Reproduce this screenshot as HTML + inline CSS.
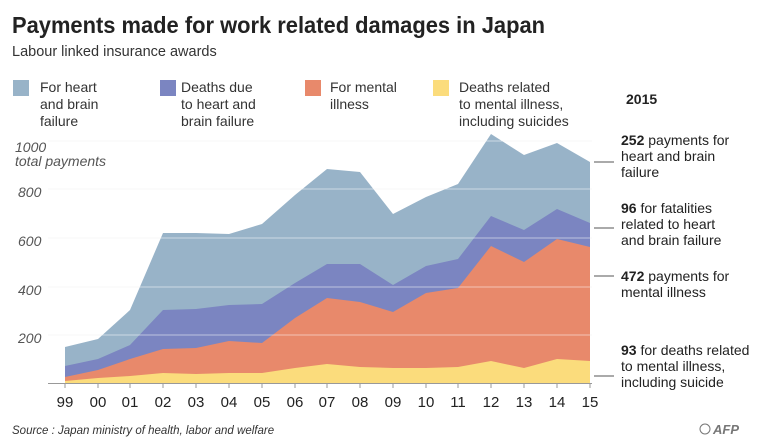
<!DOCTYPE html><html><head><meta charset="utf-8"><style>
body{margin:0;background:#fff;}
svg{display:block;font-family:"Liberation Sans",sans-serif;}
</style></head><body>
<svg width="768" height="448" viewBox="0 0 768 448">
<text x="12" y="33" font-size="23" font-weight="bold" fill="#222" textLength="533" lengthAdjust="spacingAndGlyphs">Payments made for work related damages in Japan</text>
<text x="12" y="56" font-size="14.5" fill="#333">Labour linked insurance awards</text>
<g font-size="14" fill="#333">
<rect x="13" y="80" width="16" height="16" fill="#98b3c8"/>
<text x="40" y="92">For heart</text><text x="40" y="109">and brain</text><text x="40" y="126">failure</text>
<rect x="160" y="80" width="16" height="16" fill="#7b85c1"/>
<text x="181" y="92">Deaths due</text><text x="181" y="109">to heart and</text><text x="181" y="126">brain failure</text>
<rect x="305" y="80" width="16" height="16" fill="#e8896b"/>
<text x="330" y="92">For mental</text><text x="330" y="109">illness</text>
<rect x="433" y="80" width="16" height="16" fill="#fbdc7c"/>
<text x="459" y="92">Deaths related</text><text x="459" y="109">to mental illness,</text><text x="459" y="126">including suicides</text>
</g>
<text x="626" y="104" font-size="14" font-weight="bold" fill="#222">2015</text>
<g stroke="#eee" stroke-width="1">
<line x1="48" y1="141" x2="592" y2="141"/><line x1="48" y1="189" x2="592" y2="189"/><line x1="48" y1="238" x2="592" y2="238"/><line x1="48" y1="287" x2="592" y2="287"/><line x1="48" y1="335" x2="592" y2="335"/>
</g>
<g font-size="14" font-style="italic" fill="#555">
<text x="15" y="152">1000</text><text x="15" y="166">total payments</text>
<text x="18" y="197">800</text><text x="18" y="246">600</text><text x="18" y="295">400</text><text x="18" y="343">200</text>
</g>
<polygon fill="#98b3c8" points="65,383 65,347 98,339 130,310 163,233 196,233 229,234 262,224 295,195 327,169 360,172 393,214 426,197 458,184 491,134 524,155 557,143 590,162 590,383"/>
<polygon fill="#7b85c1" points="65,383 65,366 98,359 130,345 163,310 196,309 229,305 262,304 295,283 327,264 360,264 393,285 426,266 458,259 491,216 524,230 557,209 590,223 590,383"/>
<polygon fill="#e8896b" points="65,383 65,377 98,370 130,359 163,349 196,348 229,341 262,343 295,318 327,298 360,302 393,312 426,293 458,288 491,246 524,262 557,239 590,247 590,383"/>
<polygon fill="#fbdc7c" points="65,383 65,381 98,378 130,376 163,373 196,374 229,373 262,373 295,368 327,364 360,367 393,368 426,368 458,367 491,361 524,368 557,359 590,361 590,383"/>
<g stroke="#fff" stroke-opacity="0.5" stroke-width="1">
<line x1="48" y1="141" x2="592" y2="141"/><line x1="48" y1="189" x2="592" y2="189"/><line x1="48" y1="238" x2="592" y2="238"/><line x1="48" y1="287" x2="592" y2="287"/><line x1="48" y1="335" x2="592" y2="335"/>
</g>
<line x1="48" y1="383.5" x2="592" y2="383.5" stroke="#999"/>
<g stroke="#999">
<line x1="65" y1="383" x2="65" y2="388"/><line x1="98" y1="383" x2="98" y2="388"/><line x1="130" y1="383" x2="130" y2="388"/><line x1="163" y1="383" x2="163" y2="388"/><line x1="196" y1="383" x2="196" y2="388"/><line x1="229" y1="383" x2="229" y2="388"/><line x1="262" y1="383" x2="262" y2="388"/><line x1="295" y1="383" x2="295" y2="388"/><line x1="327" y1="383" x2="327" y2="388"/><line x1="360" y1="383" x2="360" y2="388"/><line x1="393" y1="383" x2="393" y2="388"/><line x1="426" y1="383" x2="426" y2="388"/><line x1="458" y1="383" x2="458" y2="388"/><line x1="491" y1="383" x2="491" y2="388"/><line x1="524" y1="383" x2="524" y2="388"/><line x1="557" y1="383" x2="557" y2="388"/><line x1="590" y1="383" x2="590" y2="388"/>
</g>
<g font-size="15" fill="#222" text-anchor="middle">
<text x="65" y="407">99</text><text x="98" y="407">00</text><text x="130" y="407">01</text><text x="163" y="407">02</text><text x="196" y="407">03</text><text x="229" y="407">04</text><text x="262" y="407">05</text><text x="295" y="407">06</text><text x="327" y="407">07</text><text x="360" y="407">08</text><text x="393" y="407">09</text><text x="426" y="407">10</text><text x="458" y="407">11</text><text x="491" y="407">12</text><text x="524" y="407">13</text><text x="557" y="407">14</text><text x="590" y="407">15</text>
</g>
<g stroke="#555"><line x1="594" y1="162" x2="614" y2="162"/><line x1="594" y1="228" x2="614" y2="228"/><line x1="594" y1="276" x2="614" y2="276"/><line x1="594" y1="376" x2="614" y2="376"/></g>
<g font-size="14" fill="#222">
<text x="621" y="145"><tspan font-weight="bold">252</tspan> payments for</text><text x="621" y="161">heart and brain</text><text x="621" y="177">failure</text>
<text x="621" y="213"><tspan font-weight="bold">96</tspan> for fatalities</text><text x="621" y="229">related to heart</text><text x="621" y="245">and brain failure</text>
<text x="621" y="281"><tspan font-weight="bold">472</tspan> payments for</text><text x="621" y="297">mental illness</text>
<text x="621" y="355"><tspan font-weight="bold">93</tspan> for deaths related</text><text x="621" y="371">to mental illness,</text><text x="621" y="387">including suicide</text>
</g>
<text x="12" y="434" font-size="11.5" font-style="italic" fill="#333">Source : Japan ministry of health, labor and welfare</text>
<circle cx="705" cy="429" r="5" fill="none" stroke="#777" stroke-width="1"/>
<text x="713" y="434" font-size="13" font-weight="bold" font-style="italic" fill="#777">AFP</text>
</svg>
</body></html>
